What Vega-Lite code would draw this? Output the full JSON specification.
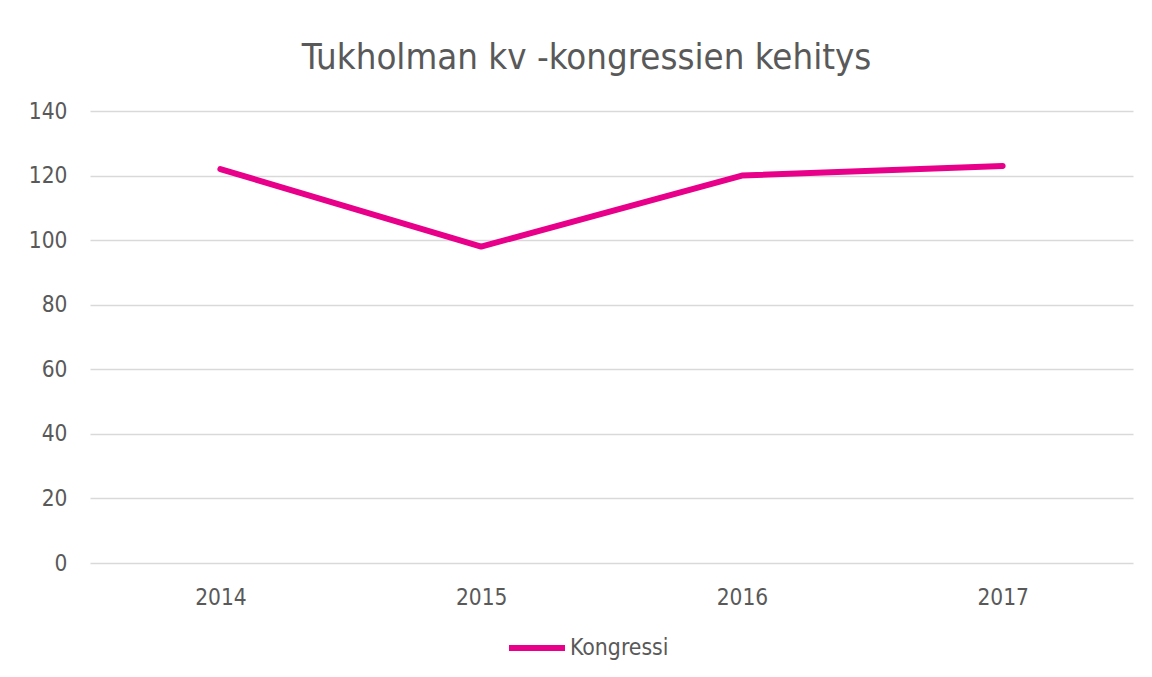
{
  "$schema": "https://vega.github.io/schema/vega-lite/v6.json",
  "autosize": {"type": "none"},
  "width": 1043,
  "height": 452,
  "padding": {"left": 90, "top": 111, "right": 19, "bottom": 114},
  "background": "white",
  "title": {
    "text": "Tukholman kv -kongressien kehitys",
    "anchor": "middle",
    "dx": -25,
    "fontSize": 36.3,
    "font": "DejaVu Sans Condensed",
    "fontWeight": "normal",
    "color": "#595959",
    "baseline": "alphabetic",
    "offset": -5
  },
  "data": {
    "values": [
      {"year": "2014", "value": 122, "series": "Kongressi"},
      {"year": "2015", "value": 98, "series": "Kongressi"},
      {"year": "2016", "value": 120, "series": "Kongressi"},
      {"year": "2017", "value": 123, "series": "Kongressi"}
    ]
  },
  "mark": {"type": "line", "strokeWidth": 6, "strokeCap": "round", "strokeJoin": "round"},
  "encoding": {
    "x": {
      "field": "year",
      "type": "ordinal",
      "scale": {"padding": 0.5},
      "axis": {
        "title": null,
        "labelAngle": 0,
        "ticks": false,
        "domain": false,
        "grid": false,
        "labelPadding": 23,
        "labelFontSize": 22.5,
        "labelFont": "DejaVu Sans Condensed",
        "labelColor": "#595959"
      }
    },
    "y": {
      "field": "value",
      "type": "quantitative",
      "scale": {"domain": [0, 140], "nice": false},
      "axis": {
        "title": null,
        "values": [0, 20, 40, 60, 80, 100, 120, 140],
        "ticks": false,
        "domain": false,
        "gridColor": "#D9D9D9",
        "gridWidth": 1.3,
        "labelPadding": 23,
        "labelFontSize": 22.5,
        "labelFont": "DejaVu Sans Condensed",
        "labelColor": "#595959"
      }
    },
    "color": {
      "field": "series",
      "type": "nominal",
      "scale": {"range": ["#E8008A"]},
      "legend": {
        "title": null,
        "orient": "none",
        "legendX": 416,
        "legendY": 506,
        "direction": "horizontal",
        "symbolType": "stroke",
        "symbolSize": 3136,
        "symbolStrokeWidth": 6,
        "labelOffset": 2,
        "labelFontSize": 22.8,
        "labelFont": "DejaVu Sans Condensed",
        "labelColor": "#595959"
      }
    }
  },
  "config": {
    "view": {"stroke": null}
  }
}
